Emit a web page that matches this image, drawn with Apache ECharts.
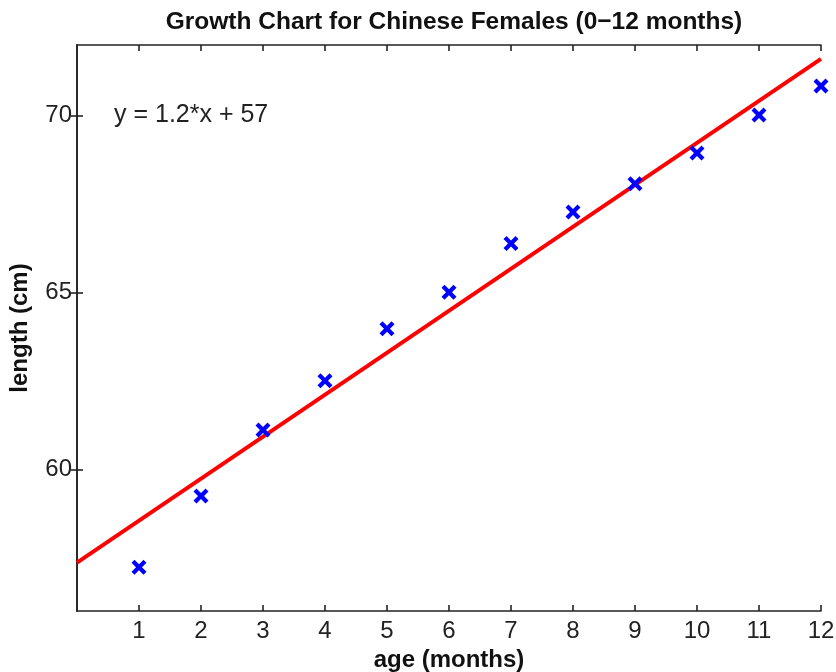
<!DOCTYPE html>
<html>
<head>
<meta charset="utf-8">
<script src="https://cdn.jsdelivr.net/npm/echarts@6/dist/echarts.min.js"></script>
<style>html,body{margin:0;padding:0;background:#fff}#c{width:836px;height:672px}</style>
</head>
<body>
<div id="c"></div>
<script>
const ages = [1, 2, 3, 4, 5, 6, 7, 8, 9, 10, 11, 12];
const lengths = [57.24, 59.25, 61.12, 62.51, 63.98, 65.01, 66.39, 67.28, 68.08, 68.95, 70.02, 70.84];
const fitX = [0, 12];
const fitY = [57.37, 71.61];
const yTicks = [60, 65, 70];
const xTicks = [1, 2, 3, 4, 5, 6, 7, 8, 9, 10, 11, 12];
const titleText = 'Growth Chart for Chinese Females (0\u221212 months)';
const eqText = 'y = 1.2*x + 57';

const FONT = '"Liberation Sans", Arial, Helvetica, sans-serif';
const axisLine = { show: true, lineStyle: { color: '#222', width: 1.6 } };
const tick = (vals) => ({ show: true, inside: true, length: 6, lineStyle: { color: '#222', width: 1.6 }, customValues: vals });
const xMarker = 'path://M0,2 L2,0 L5,3 L8,0 L10,2 L7,5 L10,8 L8,10 L5,7 L2,10 L0,8 L3,5 Z';

const chart = echarts.init(document.getElementById('c'), null, { renderer: 'canvas' });
chart.setOption({
  animation: false,
  backgroundColor: '#fff',
  title: {
    text: titleText, left: 449, top: 5, textAlign: 'center',
    textStyle: { fontFamily: FONT, fontWeight: 'bold', fontSize: 24.5, color: '#111' }
  },
  grid: { left: 77, right: 15, top: 45, bottom: 61, containLabel: false, outerBoundsMode: 'none' },
  xAxis: [{
    type: 'value', min: 0, max: 12, interval: 1, position: 'bottom',
    name: 'age (months)', nameLocation: 'middle', nameGap: 32,
    nameTextStyle: { fontFamily: FONT, fontWeight: 'bold', fontSize: 24, color: '#111' },
    axisLine: axisLine,
    axisTick: tick(xTicks),
    axisLabel: { fontFamily: FONT, fontSize: 24, color: '#222', margin: 8, customValues: xTicks, hideOverlap: false },
    splitLine: { show: false }
  }, {
    type: 'value', min: 0, max: 12, interval: 1, position: 'top',
    axisLine: axisLine,
    axisTick: tick(xTicks),
    axisLabel: { show: false }, splitLine: { show: false }
  }],
  yAxis: [{
    type: 'value', min: 56, max: 72, position: 'left',
    name: 'length (cm)', nameLocation: 'middle', nameGap: 45, nameRotate: 90,
    nameTextStyle: { fontFamily: FONT, fontWeight: 'bold', fontSize: 24, color: '#111' },
    axisLine: axisLine,
    axisTick: tick(yTicks),
    axisLabel: { fontFamily: FONT, fontSize: 24, color: '#222', margin: 5, customValues: yTicks },
    splitLine: { show: false }
  }, {
    type: 'value', min: 56, max: 72, position: 'right',
    axisLine: axisLine,
    axisTick: tick(yTicks),
    axisLabel: { show: false }, splitLine: { show: false }
  }],
  graphic: [{
    type: 'text', x: 114, y: 115,
    style: { text: eqText, fontFamily: FONT, fontSize: 25, fill: '#222', verticalAlign: 'middle', align: 'left' }
  }],
  series: [{
    type: 'line', xAxisIndex: 0, yAxisIndex: 0,
    data: fitX.map((x, i) => [x, fitY[i]]),
    showSymbol: false, symbol: 'none',
    lineStyle: { color: '#ff0000', width: 4 }, z: 2
  }, {
    type: 'scatter', xAxisIndex: 0, yAxisIndex: 0,
    data: ages.map((a, i) => [a, lengths[i]]),
    symbol: xMarker, symbolSize: 15,
    itemStyle: { color: '#0000ff', opacity: 1 }, z: 3
  }]
});
</script>
</body>
</html>
